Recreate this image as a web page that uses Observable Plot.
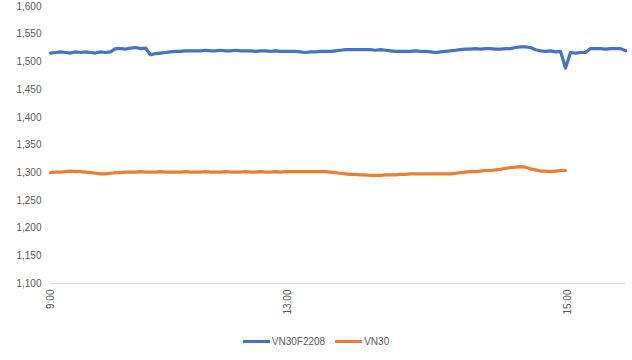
<!DOCTYPE html>
<html>
<head>
<meta charset="utf-8">
<script src="https://cdn.jsdelivr.net/npm/d3@7"></script>
<script src="https://cdn.jsdelivr.net/npm/@observablehq/plot@0.6"></script>
<style>
  body { margin: 0; background: #fff; font-family: "Liberation Sans", Arial, sans-serif; }
  #legend { height: 26px; display: flex; justify-content: center; align-items: center; font-size: 10px; color: #595959; }
  .item { display: flex; align-items: center; margin: 0 5px; }
  .sw { width: 27px; height: 3px; margin-right: 2px; }
</style>
</head>
<body>
<div id="chart"></div>
<div id="legend"></div>
<script>
const seriesNames = ["VN30F2208", "VN30"];
const seriesColors = ["#4472C4", "#ED7D31"];

// Sampled values along the session (sample index 0..115)
const vn30f = [
  1516,1517,1518,1517,1516,1518,1517,1518,1517,1516,
  1518,1517,1518,1524,1524,1523,1525,1526,1524,1525,
  1513,1515,1516,1517,1518,1519,1519,1520,1520,1520,
  1520,1521,1520,1520,1521,1520,1520,1521,1520,1520,
  1520,1519,1520,1520,1519,1520,1519,1519,1519,1519,
  1518,1517,1518,1518,1519,1519,1519,1520,1521,1522,
  1522,1522,1522,1522,1522,1521,1522,1521,1520,1519,
  1519,1519,1519,1520,1519,1519,1518,1517,1518,1519,
  1520,1521,1522,1523,1523,1524,1523,1524,1524,1523,
  1523,1524,1524,1526,1527,1527,1526,1522,1520,1519,
  1520,1518,1519,1489,1517,1516,1517,1517,1524,1524,
  1524,1523,1524,1524,1524,1520
];
const vn30 = [
  1300,1301,1301,1302,1303,1302,1302,1301,1300,1299,
  1298,1298,1299,1300,1300,1301,1301,1301,1302,1301,
  1301,1301,1302,1301,1301,1301,1301,1302,1301,1301,
  1301,1302,1301,1301,1301,1302,1301,1301,1301,1302,
  1301,1301,1302,1301,1301,1302,1301,1302,1302,1302,
  1302,1302,1302,1302,1302,1302,1301,1300,1299,1298,
  1297,1297,1296,1296,1295,1295,1295,1296,1296,1296,
  1297,1297,1298,1298,1298,1298,1298,1298,1298,1298,
  1298,1299,1300,1301,1302,1302,1303,1304,1304,1305,
  1306,1308,1309,1310,1311,1310,1307,1305,1303,1303,
  1302,1303,1304,1304
];

const tickLabels = ["9:00", "13:00", "15:00"];
const tickIdx = [0, 47.4, 103.4];
const yTicks = [1100,1150,1200,1250,1300,1350,1400,1450,1500,1550,1600];

const rows = [
  ...vn30f.map((v, i) => ({i, v, s: seriesNames[0]})),
  ...vn30.map((v, i) => ({i, v, s: seriesNames[1]}))
];

const chart = Plot.plot({
  width: 632,
  height: 328,
  marginLeft: 50,
  marginRight: 7,
  marginTop: 6,
  marginBottom: 45,
  style: {fontFamily: "Liberation Sans, Arial, sans-serif", fontSize: "10px", color: "#595959", background: "#fff"},
  x: {domain: [0, vn30f.length - 1]},
  y: {domain: [1100, 1600]},
  color: {domain: seriesNames, range: seriesColors},
  marks: [
    Plot.ruleY([1100], {stroke: "#d9d9d9", strokeWidth: 1}),
    Plot.axisY({ticks: yTicks, tickFormat: d3.format(","), tickSize: 0, tickPadding: 9, label: null, fill: "#595959"}),
    Plot.axisX({ticks: tickIdx, tickFormat: (d, k) => tickLabels[k], tickRotate: -90, tickSize: 0, tickPadding: 6, label: null, fill: "#595959"}),
    Plot.line(rows, {x: "i", y: "v", z: "s", stroke: "s", strokeWidth: 3.2, strokeLinejoin: "round", strokeLinecap: "round"})
  ]
});
document.getElementById("chart").appendChild(chart);

const legend = document.getElementById("legend");
seriesNames.forEach((n, k) => {
  const it = document.createElement("div");
  it.className = "item";
  const sw = document.createElement("div");
  sw.className = "sw";
  sw.style.background = seriesColors[k];
  const t = document.createElement("span");
  t.textContent = n;
  it.appendChild(sw); it.appendChild(t);
  legend.appendChild(it);
});
</script>
</body>
</html>
